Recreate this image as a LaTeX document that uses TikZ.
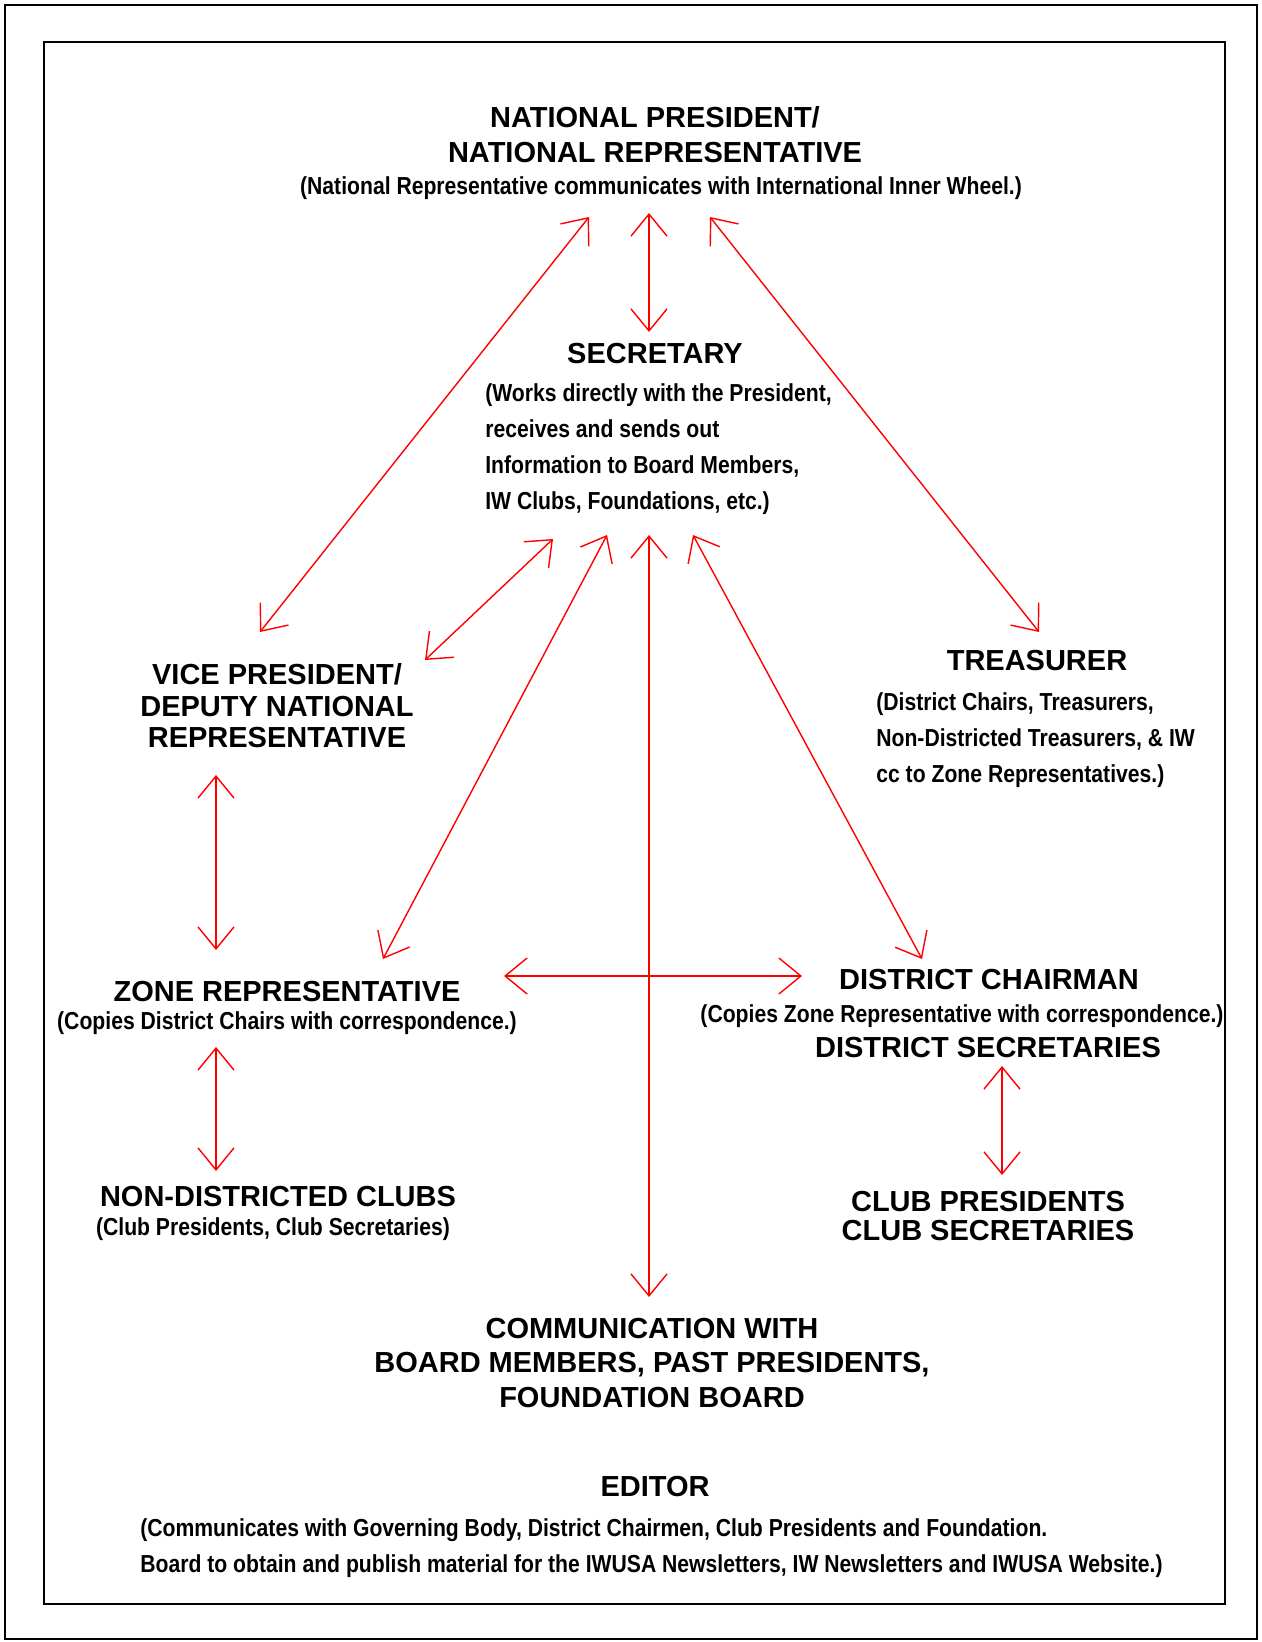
\documentclass[tikz,border=0pt]{standalone}
\usepackage{fontspec}
\setmainfont{Liberation Sans}
\newfontfamily\narrowfont[FakeStretch=0.86]{Liberation Sans}
\usetikzlibrary{arrows.meta}

\tikzset{
  heading/.style={align=center, inner sep=0pt, font=\bfseries\fontsize{16.5}{19.8}\selectfont},
  subnote/.style={inner sep=0pt, font=\narrowfont\bfseries\fontsize{14}{20.5}\selectfont},
  link/.style={red, line width=0.8pt,
    {Straight Barb[length=0.44cm,width=0.72cm]}-{Straight Barb[length=0.44cm,width=0.72cm]}},
  frame/.style={line width=1.2pt}
}

\begin{document}
\begin{tikzpicture}[x=0.02cm, y=-0.02cm]

    \useasboundingbox (0,0) rectangle (1261,1642);

    % Draw the outer and inner frames
    \draw[frame] (5,5) rectangle (1257,1639);
    \draw[frame] (44,42) rectangle (1225,1604);

    % National president at the top
    \node[heading] (np) at (655,135) {NATIONAL PRESIDENT/\\NATIONAL REPRESENTATIVE};
    \node[subnote] (np-note) at (661,188) {(National Representative communicates with International Inner Wheel.)};

    % Secretary in the middle
    \node[heading] (sec) at (655,354) {SECRETARY};
    \node[subnote, align=left, anchor=west] (sec-note) at (485,449)
        {(Works directly with the President,\\receives and sends out\\Information to Board Members,\\IW Clubs, Foundations, etc.)};

    % Vice president and treasurer
    \node[heading, font=\bfseries\fontsize{16.5}{17.9}\selectfont] (vp) at (277,706)
        {VICE PRESIDENT/\\DEPUTY NATIONAL\\REPRESENTATIVE};
    \node[heading] (tr) at (1037,661) {TREASURER};
    \node[subnote, align=left, anchor=west] (tr-note) at (876,740)
        {(District Chairs, Treasurers,\\Non-Districted Treasurers, \& IW\\cc to Zone Representatives.)};

    % Zone representative and district chairman
    \node[heading] (zone) at (287,992) {ZONE REPRESENTATIVE};
    \node[subnote] (zone-note) at (287,1023) {(Copies District Chairs with correspondence.)};
    \node[heading] (dc) at (989,980) {DISTRICT CHAIRMAN};
    \node[subnote] (dc-note) at (962,1016) {(Copies Zone Representative with correspondence.)};
    \node[heading] (dc-sec) at (988,1048) {DISTRICT SECRETARIES};

    % Clubs
    \node[heading] (ndc) at (278,1197) {NON-DISTRICTED CLUBS};
    \node[subnote] (ndc-note) at (273,1229) {(Club Presidents, Club Secretaries)};
    \node[heading, font=\bfseries\fontsize{16.5}{17}\selectfont] (club) at (988,1216)
        {CLUB PRESIDENTS\\CLUB SECRETARIES};

    % Board communication and editor
    \node[heading] (comm) at (652,1363)
        {COMMUNICATION WITH\\BOARD MEMBERS, PAST PRESIDENTS,\\FOUNDATION BOARD};
    \node[heading] (ed) at (655,1487) {EDITOR};
    \node[subnote, align=left, anchor=west] (ed-note) at (140,1548)
        {(Communicates with Governing Body, District Chairmen, Club Presidents and Foundation.\\Board to obtain and publish material for the IWUSA Newsletters, IW Newsletters and IWUSA Website.)};

    % Arrow ends
    \coordinate (np-s) at (649,213);
    \coordinate (np-sw) at (589,217);
    \coordinate (np-se) at (710,217);
    \coordinate (sec-n) at (649,332);
    \coordinate (sec-s1) at (553,539);
    \coordinate (sec-s2) at (607,535);
    \coordinate (sec-s3) at (649,535);
    \coordinate (sec-s4) at (693,535);
    \coordinate (vp-n) at (260,632);
    \coordinate (vp-ne) at (425,660);
    \coordinate (vp-s) at (216,775);
    \coordinate (tr-n) at (1039,632);
    \coordinate (zone-n) at (216,950);
    \coordinate (zone-ne) at (383,959);
    \coordinate (zone-e) at (504,976);
    \coordinate (zone-s) at (216,1047);
    \coordinate (ndc-n) at (216,1171);
    \coordinate (dc-n) at (922,959);
    \coordinate (dc-w) at (802,976);
    \coordinate (dc-s) at (1002,1066);
    \coordinate (club-n) at (1002,1175);
    \coordinate (comm-n) at (649,1297);

    % Draw the lines of communication
    \draw[link] (np-s) -- (sec-n);
    \draw[link] (np-sw) -- (vp-n);
    \draw[link] (np-se) -- (tr-n);
    \draw[link] (sec-s1) -- (vp-ne);
    \draw[link] (sec-s2) -- (zone-ne);
    \draw[link] (sec-s3) -- (comm-n);
    \draw[link] (sec-s4) -- (dc-n);
    \draw[link] (vp-s) -- (zone-n);
    \draw[link] (zone-s) -- (ndc-n);
    \draw[link] (zone-e) -- (dc-w);
    \draw[link] (dc-s) -- (club-n);

\end{tikzpicture}
\end{document}
